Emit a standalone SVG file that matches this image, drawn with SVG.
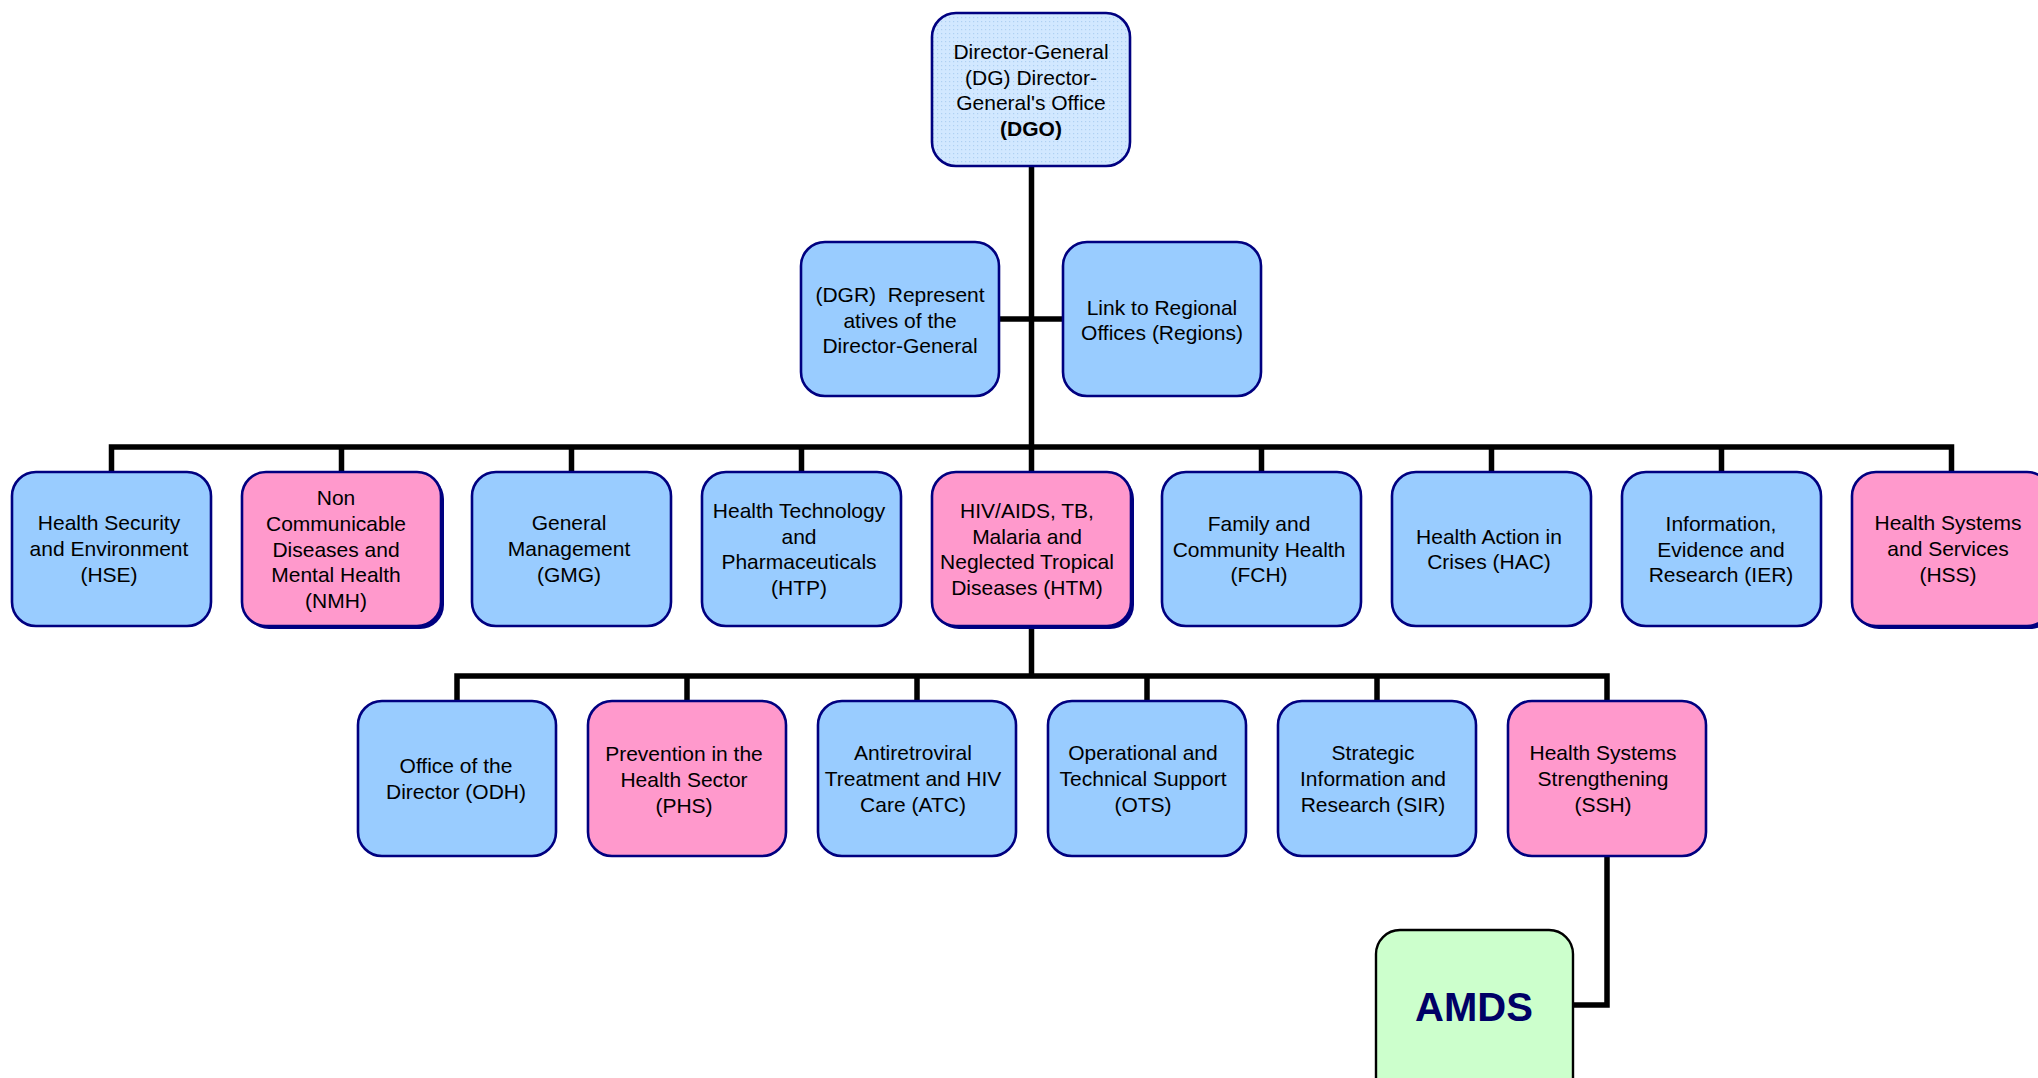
<svg xmlns="http://www.w3.org/2000/svg" width="2038" height="1078" viewBox="0 0 2038 1078">
<defs>
<pattern id="dots" width="4" height="4" patternUnits="userSpaceOnUse">
<rect width="4" height="4" fill="#d2e8ff"/>
<rect x="1" y="1" width="1.2" height="1.2" fill="#aed0f2"/>
</pattern>
</defs>
<style>
.b{fill:#99ccff;stroke:#000080;stroke-width:2.6}
.p{fill:#ff99cc;stroke:#000080;stroke-width:2.6}
.sh{fill:#000080}
.g{fill:#ccffcc;stroke:#000000;stroke-width:2.4}
.d{fill:url(#dots);stroke:#000080;stroke-width:2.6}
text{font-family:"Liberation Sans",Arial,sans-serif;font-size:21px;fill:#000;text-anchor:middle;white-space:pre}
.bold{font-weight:bold}
.amds{font-size:40px;font-weight:bold;fill:#000066}
.c{fill:none;stroke:#000;stroke-width:5.5}
</style>
<rect width="2038" height="1078" fill="#fff"/>
<g id="connectors">
<line class="c" x1="1031.5" y1="166" x2="1031.5" y2="471"/>
<line class="c" x1="999" y1="319" x2="1063" y2="319"/>
<polyline class="c" points="111.5,471 111.5,447 1951.5,447 1951.5,471"/>
<line class="c" x1="341.5" y1="447" x2="341.5" y2="471"/>
<line class="c" x1="571.5" y1="447" x2="571.5" y2="471"/>
<line class="c" x1="801.5" y1="447" x2="801.5" y2="471"/>
<line class="c" x1="1261.5" y1="447" x2="1261.5" y2="471"/>
<line class="c" x1="1491.5" y1="447" x2="1491.5" y2="471"/>
<line class="c" x1="1721.5" y1="447" x2="1721.5" y2="471"/>
<line class="c" x1="1031.5" y1="625" x2="1031.5" y2="676"/>
<polyline class="c" points="457,701 457,676 1607,676 1607,701"/>
<line class="c" x1="687" y1="676" x2="687" y2="701"/>
<line class="c" x1="917" y1="676" x2="917" y2="701"/>
<line class="c" x1="1147" y1="676" x2="1147" y2="701"/>
<line class="c" x1="1377" y1="676" x2="1377" y2="701"/>
<polyline class="c" points="1607,855 1607,1005 1573,1005"/>
</g>
<g id="DGO">
<rect class="d" x="932" y="13" width="198" height="153" rx="24"/>
<text x="1031" y="59">Director-General</text>
<text x="1031" y="84.5">(DG) Director-</text>
<text x="1031" y="110">General's Office</text>
<text class="bold" x="1031" y="136">(DGO)</text>
</g>
<g id="DGR">
<rect class="b" x="801" y="242" width="198" height="154" rx="24"/>
<text x="900" y="302" xml:space="preserve">(DGR)  Represent</text>
<text x="900" y="327.5">atives of the</text>
<text x="900" y="353">Director-General</text>
</g>
<g id="Regions">
<rect class="b" x="1063" y="242" width="198" height="154" rx="24"/>
<text x="1162" y="314.5">Link to Regional</text>
<text x="1162" y="340">Offices (Regions)</text>
</g>
<g id="HSE">
<rect class="b" x="12" y="472" width="199" height="154" rx="24"/>
<text x="109" y="530">Health Security</text>
<text x="109" y="556">and Environment</text>
<text x="109" y="582">(HSE)</text>
</g>
<g id="NMH">
<rect class="sh" x="245" y="475" width="199" height="154" rx="24"/>
<rect class="p" x="242" y="472" width="199" height="154" rx="24"/>
<text x="336" y="505">Non</text>
<text x="336" y="531">Communicable</text>
<text x="336" y="556.5">Diseases and</text>
<text x="336" y="582">Mental Health</text>
<text x="336" y="608">(NMH)</text>
</g>
<g id="GMG">
<rect class="b" x="472" y="472" width="199" height="154" rx="24"/>
<text x="569" y="530">General</text>
<text x="569" y="556">Management</text>
<text x="569" y="582">(GMG)</text>
</g>
<g id="HTP">
<rect class="b" x="702" y="472" width="199" height="154" rx="24"/>
<text x="799" y="518">Health Technology</text>
<text x="799" y="544">and</text>
<text x="799" y="569">Pharmaceuticals</text>
<text x="799" y="595">(HTP)</text>
</g>
<g id="HTM">
<rect class="sh" x="935" y="475" width="199" height="154" rx="24"/>
<rect class="p" x="932" y="472" width="199" height="154" rx="24"/>
<text x="1027" y="518">HIV/AIDS, TB,</text>
<text x="1027" y="544">Malaria and</text>
<text x="1027" y="569">Neglected Tropical</text>
<text x="1027" y="595">Diseases (HTM)</text>
</g>
<g id="FCH">
<rect class="b" x="1162" y="472" width="199" height="154" rx="24"/>
<text x="1259" y="531">Family and</text>
<text x="1259" y="557">Community Health</text>
<text x="1259" y="582">(FCH)</text>
</g>
<g id="HAC">
<rect class="b" x="1392" y="472" width="199" height="154" rx="24"/>
<text x="1489" y="544">Health Action in</text>
<text x="1489" y="569">Crises (HAC)</text>
</g>
<g id="IER">
<rect class="b" x="1622" y="472" width="199" height="154" rx="24"/>
<text x="1721" y="531">Information,</text>
<text x="1721" y="557">Evidence and</text>
<text x="1721" y="582">Research (IER)</text>
</g>
<g id="HSS">
<rect class="sh" x="1855" y="475" width="199" height="154" rx="24"/>
<rect class="p" x="1852" y="472" width="199" height="154" rx="24"/>
<text x="1948" y="530">Health Systems</text>
<text x="1948" y="556">and Services</text>
<text x="1948" y="582">(HSS)</text>
</g>
<g id="ODH">
<rect class="b" x="358" y="701" width="198" height="155" rx="24"/>
<text x="456" y="773">Office of the</text>
<text x="456" y="799">Director (ODH)</text>
</g>
<g id="PHS">
<rect class="p" x="588" y="701" width="198" height="155" rx="24"/>
<text x="684" y="761">Prevention in the</text>
<text x="684" y="787">Health Sector</text>
<text x="684" y="813">(PHS)</text>
</g>
<g id="ATC">
<rect class="b" x="818" y="701" width="198" height="155" rx="24"/>
<text x="913" y="760">Antiretroviral</text>
<text x="913" y="786">Treatment and HIV</text>
<text x="913" y="812">Care (ATC)</text>
</g>
<g id="OTS">
<rect class="b" x="1048" y="701" width="198" height="155" rx="24"/>
<text x="1143" y="760">Operational and</text>
<text x="1143" y="786">Technical Support</text>
<text x="1143" y="812">(OTS)</text>
</g>
<g id="SIR">
<rect class="b" x="1278" y="701" width="198" height="155" rx="24"/>
<text x="1373" y="760">Strategic</text>
<text x="1373" y="786">Information and</text>
<text x="1373" y="812">Research (SIR)</text>
</g>
<g id="SSH">
<rect class="p" x="1508" y="701" width="198" height="155" rx="24"/>
<text x="1603" y="760">Health Systems</text>
<text x="1603" y="786">Strengthening</text>
<text x="1603" y="812">(SSH)</text>
</g>
<g id="AMDS">
<rect class="g" x="1376" y="930" width="197" height="200" rx="24"/>
<text class="amds" x="1474" y="1021">AMDS</text>
</g>
</svg>
